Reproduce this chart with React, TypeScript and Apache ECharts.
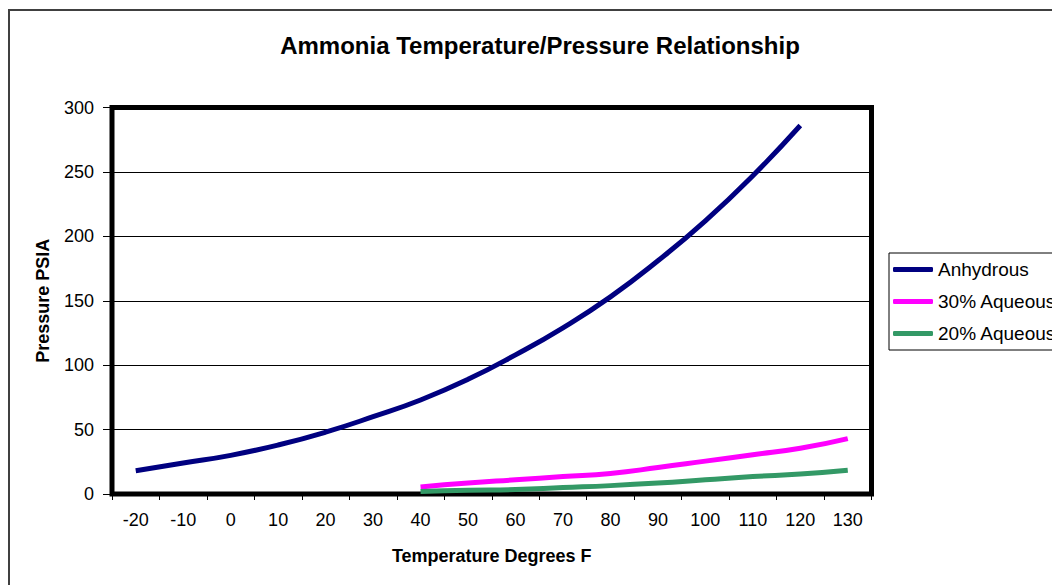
import React, { useEffect, useRef } from "react";
import * as echarts from "echarts";

const categories = ["-20", "-10", "0", "10", "20", "30", "40", "50", "60", "70", "80", "90", "100", "110", "120", "130"];
const anhydrous = [18, 24, 30, 38, 48, 60, 73, 89, 108, 129, 153, 181, 212, 247, 286, null];
const aqueous30 = [null, null, null, null, null, null, 5.5, 8.5, 11, 13.5, 16, 20.5, 25.5, 30.5, 35.5, 43];
const aqueous20 = [null, null, null, null, null, null, 2, 3, 3.5, 5, 6.5, 8.5, 11, 13.5, 15.5, 18.5];
const yTicks = { min: 0, max: 300, interval: 50 };

const FONT = "'Liberation Sans', Arial, sans-serif";

export default function App() {
  const ref = useRef<HTMLDivElement>(null);
  useEffect(() => {
    const chart = echarts.init(ref.current!, null, { renderer: "svg" });
    chart.setOption({
      animation: false,
      backgroundColor: "#fff",
      textStyle: { fontFamily: FONT },
      graphic: [
        {
          type: "rect",
          shape: { x: 9, y: 10, width: 1100, height: 700 },
          style: { fill: "none", stroke: "#404040", lineWidth: 2 },
          silent: true,
        },
        {
          type: "text",
          x: 540,
          y: 45,
          style: {
            text: "Ammonia Temperature/Pressure Relationship",
            font: `bold 24px ${FONT}`,
            fill: "#000",
            textAlign: "center",
            textVerticalAlign: "middle",
          },
        },
      ],
      grid: {
        left: 112,
        right: 180.5,
        top: 107.5,
        bottom: 91,
        show: true,
        borderColor: "#000",
        borderWidth: 5,
        backgroundColor: "#fff",
      },
      legend: {
        orient: "vertical",
        left: 889,
        top: 253,
        padding: [7, 200, 7, 4],
        itemWidth: 40,
        itemHeight: 5,
        itemGap: 13,
        borderColor: "#000",
        borderWidth: 1,
        backgroundColor: "#fff",
        textStyle: { fontSize: 19, color: "#000", fontFamily: FONT, lineHeight: 19 },
        data: [
          { name: "Anhydrous", icon: "roundRect" },
          { name: "30% Aqueous", icon: "roundRect" },
          { name: "20% Aqueous", icon: "roundRect" },
        ],
      },
      xAxis: {
        type: "category",
        data: categories,
        boundaryGap: true,
        name: "Temperature Degrees F",
        nameLocation: "middle",
        nameGap: 53,
        nameTextStyle: { fontSize: 18, fontWeight: "bold", color: "#000", fontFamily: FONT },
        axisLine: { show: true, lineStyle: { color: "#000", width: 1 } },
        axisTick: { show: true, length: 6, lineStyle: { color: "#000" } },
        axisLabel: { fontSize: 18, color: "#000", margin: 17, fontFamily: FONT },
        splitLine: { show: false },
      },
      yAxis: {
        type: "value",
        min: yTicks.min,
        max: yTicks.max,
        interval: yTicks.interval,
        name: "Pressure PSIA",
        nameLocation: "middle",
        nameGap: 60,
        nameRotate: 90,
        nameTextStyle: { fontSize: 18, fontWeight: "bold", color: "#000", fontFamily: FONT },
        axisLine: { show: true, lineStyle: { color: "#000", width: 1 } },
        axisTick: { show: true, length: 9, lineStyle: { color: "#000" } },
        axisLabel: { fontSize: 18, color: "#000", margin: 18, fontFamily: FONT },
        splitLine: { show: true, lineStyle: { color: "#000", width: 1 } },
      },
      series: [
        {
          name: "Anhydrous",
          type: "line",
          data: anhydrous,
          smooth: true,
          symbol: "none",
          color: "#000080",
          lineStyle: { color: "#000080", width: 5 },
        },
        {
          name: "30% Aqueous",
          type: "line",
          data: aqueous30,
          smooth: true,
          symbol: "none",
          color: "#FF00FF",
          lineStyle: { color: "#FF00FF", width: 5 },
        },
        {
          name: "20% Aqueous",
          type: "line",
          data: aqueous20,
          smooth: true,
          symbol: "none",
          color: "#339966",
          lineStyle: { color: "#339966", width: 5 },
        },
      ],
    });
    return () => chart.dispose();
  }, []);
  return (
    <div
      ref={ref}
      style={{ position: "fixed", left: 0, top: 0, width: 1052, height: 585, background: "#fff" }}
    />
  );
}
